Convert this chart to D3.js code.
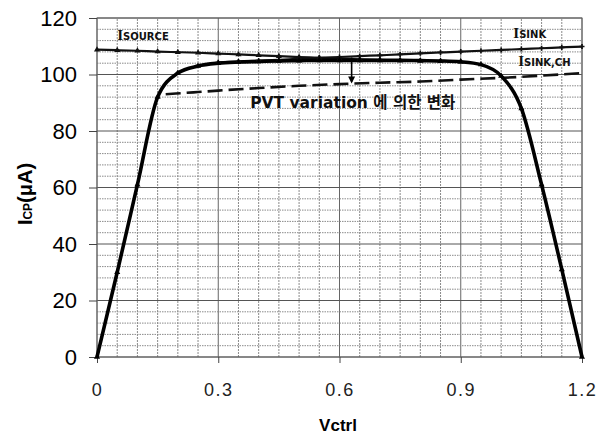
<!DOCTYPE html>
<html><head><meta charset="utf-8">
<script src="https://cdn.jsdelivr.net/npm/d3@7"></script>
<style>
html,body{margin:0;padding:0;background:#fff;}
svg{display:block;}
</style></head>
<body>
<svg id="chart" width="599" height="434"></svg>
<script>
// ---- data ----
const vctrl = [0,0.05,0.1,0.15,0.2,0.25,0.3,0.35,0.4,0.45,0.5,0.55,0.6,0.65,0.7,0.75,0.8,0.85,0.9,0.95,1.0,1.05,1.1,1.15,1.2];
const icp   = [0,30,61,92,100.5,103,104,104.4,104.6,104.8,104.9,105,105,105,105,105,104.9,104.8,104.5,103.5,99.5,88,61,31,0];
const isourceV = [0,0.05,0.1,0.15,0.2,0.25,0.3,0.35,0.4,0.45,0.5,0.55,0.6,0.65,0.7,0.75,0.8,0.85,0.9];
const isource  = [108.8,108.6,108.4,108.1,107.9,107.7,107.4,107.1,106.8,106.5,106.2,105.9,105.6,105.4,105.2,105.0,104.9,104.8,104.6];
const isinkV = [0.3,0.35,0.4,0.45,0.5,0.55,0.6,0.65,0.7,0.75,0.8,0.85,0.9,0.95,1.0,1.05,1.1,1.15,1.2];
const isink  = [104.3,104.6,104.9,105.2,105.6,105.9,106.2,106.5,106.8,107.1,107.5,107.8,108.1,108.4,108.7,109.0,109.3,109.6,109.9];
const pvtV = [0.17,0.25,0.3,0.4,0.5,0.6,0.7,0.8,0.9,1.0,1.1,1.2];
const pvt  = [93,93.8,94.3,95.2,96,96.6,97.1,97.5,98.2,98.8,99.6,100.5];
const arrowV = 0.63, arrowFrom = 106, arrowTo = 96.8;
const xTicks = [0,0.3,0.6,0.9,1.2];
const xTickLabels = ["0","0.3","0.6","0.9","1.2"];
const yTicks = [0,20,40,60,80,100,120];
const xTitle = "Vctrl";
const pvtLabel = "PVT variation 에 의한 변화";

// ---- layout ----
const svg = d3.select("#chart");
const x = d3.scaleLinear().domain([0,1.2]).range([97,582]);
const y = d3.scaleLinear().domain([0,120]).range([357,18]);

// grid
const g = svg.append("g");
const minorX = d3.range(0,1.2001,0.05);
const minorY = d3.range(0,120.001,4);
const isMajX = d=>Math.abs(d/0.3-Math.round(d/0.3))<1e-6;
g.selectAll(".vmin").data(minorX).join("line")
  .attr("x1",d=>x(d)).attr("x2",d=>x(d)).attr("y1",y(0)).attr("y2",y(120))
  .attr("stroke",d=>isMajX(d)?"#666":"#8a8a8a")
  .attr("stroke-width",1)
  .attr("stroke-dasharray",d=>isMajX(d)?null:"2,1");
g.selectAll(".hmin").data(minorY).join("line")
  .attr("x1",x(0)).attr("x2",x(1.2)).attr("y1",d=>y(d)).attr("y2",d=>y(d))
  .attr("stroke",d=>d%20===0?"#555":"#8a8a8a")
  .attr("stroke-width",1)
  .attr("stroke-dasharray",d=>d%20===0?null:"1.5,1");
// frame
svg.append("rect").attr("x",x(0)).attr("y",y(120)).attr("width",x(1.2)-x(0)).attr("height",y(0)-y(120))
  .attr("fill","none").attr("stroke","#666").attr("stroke-width",1);

// axes
const yAxis = d3.axisLeft(y).tickValues(yTicks).tickSize(8).tickPadding(12);
const ya = svg.append("g").attr("transform",`translate(${x(0)},0)`).call(yAxis);
ya.select(".domain").remove();
ya.selectAll("line").attr("stroke","#444");
ya.selectAll("text").attr("font-family","'Liberation Sans Narrow','Arial Narrow',sans-serif")
  .attr("font-size",22).attr("fill","#000");

const xAxis = d3.axisBottom(x).tickValues(xTicks).tickFormat((d,i)=>xTickLabels[i]).tickSize(6).tickPadding(20);
const xa = svg.append("g").attr("transform",`translate(0,${y(0)})`).call(xAxis);
xa.select(".domain").remove();
xa.selectAll("line").attr("stroke","#444");
xa.selectAll("text").attr("font-family","'Liberation Sans',Arial,sans-serif")
  .attr("font-size",18).attr("fill","#222").attr("letter-spacing","1.5px");

// titles
svg.append("text").attr("x",338).attr("y",431).attr("text-anchor","middle")
  .attr("font-family","'Liberation Sans',Arial,sans-serif").attr("font-weight","bold").attr("font-size",17)
  .text(xTitle);
const yt = svg.append("text").attr("transform","translate(32,194) rotate(-90)").attr("text-anchor","middle")
  .attr("font-family","'Liberation Sans',Arial,sans-serif").attr("font-weight","bold").attr("font-size",20);
yt.append("tspan").text("I");
yt.append("tspan").attr("font-size",12).text("CP");
yt.append("tspan").text("(μA)");

// lines
const line = d3.line().x(d=>x(d[0])).y(d=>y(d[1])).curve(d3.curveMonotoneX);
const tri = d3.symbol().type(d3.symbolTriangle).size(16);

const srcPts = isourceV.map((v,i)=>[v,isource[i]]);
const sinkPts = isinkV.map((v,i)=>[v,isink[i]]);
const icpPts = vctrl.map((v,i)=>[v,icp[i]]);
const pvtPts = pvtV.map((v,i)=>[v,pvt[i]]);

svg.append("path").attr("d",line(srcPts)).attr("fill","none").attr("stroke","#111").attr("stroke-width",2.2);
svg.append("path").attr("d",line(sinkPts)).attr("fill","none").attr("stroke","#111").attr("stroke-width",2.2);
svg.append("path").attr("d",line(pvtPts)).attr("fill","none").attr("stroke","#111").attr("stroke-width",2.6)
  .attr("stroke-dasharray","15,6");
svg.append("path").attr("d",line(icpPts)).attr("fill","none").attr("stroke","#000").attr("stroke-width",3.6);

svg.selectAll(".ms").data(srcPts).join("path").attr("d",tri)
  .attr("transform",d=>`translate(${x(d[0])},${y(d[1])})`).attr("fill","#111");
svg.selectAll(".mk").data(sinkPts).join("path").attr("d",d3.symbol().type(d3.symbolCross).size(14))
  .attr("transform",d=>`translate(${x(d[0])},${y(d[1])})`).attr("fill","#111");
svg.selectAll(".mi").data(icpPts).join("path").attr("d",tri)
  .attr("transform",d=>`translate(${x(d[0])},${y(d[1])})`).attr("fill","#000");

// arrow
svg.append("line").attr("x1",x(arrowV)).attr("x2",x(arrowV)).attr("y1",y(arrowFrom)).attr("y2",y(arrowTo)-2)
  .attr("stroke","#000").attr("stroke-width",1.6);
svg.append("path").attr("d",`M${x(arrowV)-3.5},${y(arrowTo)-7} L${x(arrowV)+3.5},${y(arrowTo)-7} L${x(arrowV)},${y(arrowTo)} Z`)
  .attr("fill","#000");

// annotations
function iLabel(xp, yp, sub){
  const t = svg.append("text").attr("x",xp).attr("y",yp)
    .attr("font-family","'DejaVu Sans',sans-serif").attr("font-weight","bold").attr("fill","#111");
  t.append("tspan").attr("font-family","'Liberation Serif',serif").attr("font-size",15).text("I");
  t.append("tspan").attr("font-size",10).text(sub);
}
iLabel(x(0.05), y(112.2), "SOURCE");
iLabel(x(1.03), y(112.9), "SINK");
iLabel(x(1.042), y(102.9), "SINK,CH");
svg.append("text").attr("x",x(0.379)).attr("y",y(88)).attr("font-weight","bold")
  .attr("font-family","'DejaVu Sans','Noto Sans CJK KR',sans-serif").attr("font-size",15.5).attr("fill","#111")
  .text(pvtLabel);
</script>
</body></html>
